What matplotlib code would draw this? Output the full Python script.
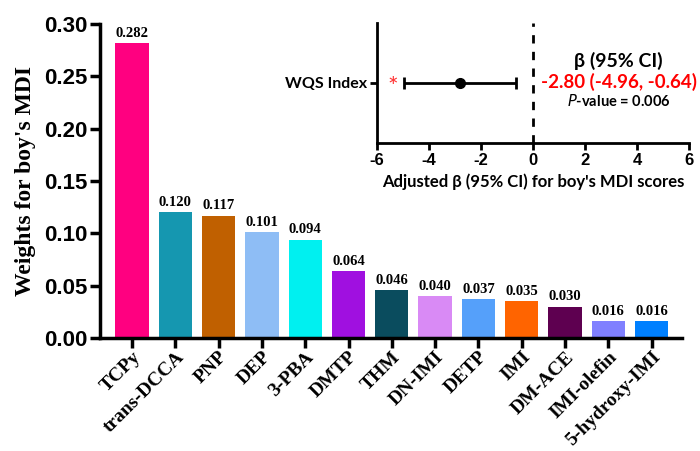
import numpy as np
from matplotlib import pyplot as plt

# WQS weights for each exposure
names = ['TCPy', 'trans-DCCA', 'PNP', 'DEP', '3-PBA', 'DMTP', 'THM', 'DN-IMI',
         'DETP', 'IMI', 'DM-ACE', 'IMI-olefin', '5-hydroxy-IMI']
weights = [0.282, 0.120, 0.117, 0.101, 0.094, 0.064, 0.046, 0.040,
           0.037, 0.035, 0.030, 0.016, 0.016]
colors = ['#FF0080', '#1597B0', '#C06000', '#8EBDF5', '#00F0F0', '#A010E0', '#0A4C5E',
          '#D98AF5', '#55A0FA', '#FF6400', '#5E0050', '#8080FF', '#0080FF']

# WQS index estimate
beta = -2.80
ci_low, ci_high = -4.96, -0.64
p_value = 0.006

serif = 'Liberation Serif'
arial = 'Liberation Sans'
calib = 'Lato'

fig = plt.figure(figsize=(7, 4.51), dpi=100)
ax = fig.add_axes([0.143, 0.2506, 0.831, 0.6962])

x = np.arange(len(names))
ax.bar(x, weights, width=0.77, color=colors)
for xi, w in zip(x, weights):
    ax.text(xi, w + 0.003, '%.3f' % w, ha='center', va='bottom',
            fontsize=10.5, fontweight='bold', family=serif)

ax.set_xlim(-0.74, 12.7)
ax.set_ylim(0, 0.30)
ax.set_yticks([0, 0.05, 0.10, 0.15, 0.20, 0.25, 0.30])
ax.set_yticklabels(['%.2f' % v for v in ax.get_yticks()],
                   fontsize=16, fontweight='bold', family=arial)
ax.set_xticks(x)
ax.set_xticklabels(names, rotation=45, ha='right', rotation_mode='anchor',
                   fontsize=14, fontweight='bold', family=serif)
ax.set_ylabel("Weights for boy's MDI", fontsize=17, fontweight='bold',
              family=serif, labelpad=6)
for s in ['top', 'right']:
    ax.spines[s].set_visible(False)
for s in ['left', 'bottom']:
    ax.spines[s].set_linewidth(2.5)
ax.tick_params(width=2.5, length=7, direction='out', pad=2)
ax.tick_params(axis='x', pad=0.5)

# forest plot inset
ins = fig.add_axes([0.5386, 0.683, 0.4457, 0.266])
ins.set_xlim(-6, 6)
ins.set_ylim(-1, 1)
ins.axvline(0, color='black', linestyle=(0, (3, 3)), linewidth=2)
ins.errorbar([beta], [0], xerr=[[beta - ci_low], [ci_high - beta]], fmt='o',
             color='black', markersize=7, linewidth=2, capsize=4, capthick=2)
ins.text(-5.38, -0.08, '*', color='#FF3030', fontsize=18, ha='center', va='center',
         family=calib)
ins.text(3.3, 0.36, u'\u03b2 (95% CI)', fontsize=14, fontweight='bold',
         ha='center', va='center', family=calib)
ins.text(3.3, 0.02, '%.2f (%.2f, %.2f)' % (beta, ci_low, ci_high), color='red',
         fontsize=13.5, fontweight='bold', ha='center', va='center', family=calib)
ins.text(3.3, -0.3, r'$\bf{\it{P}}$' + '-value = %.3f' % p_value, fontsize=10.5,
         fontweight='bold', ha='center', va='center', family=calib)
ins.set_xticks([-6, -4, -2, 0, 2, 4, 6])
ins.set_xticklabels(['-6', '-4', '-2', '0', '2', '4', '6'], fontsize=12,
                    fontweight='bold', family=arial)
ins.set_yticks([0])
ins.set_yticklabels(['WQS Index'], fontsize=11.5, fontweight='bold', family=calib)
ins.set_xlabel(u"Adjusted \u03b2 (95% CI) for boy's MDI scores", fontsize=12,
               fontweight='bold', family=calib, labelpad=4)
for s in ['top', 'right']:
    ins.spines[s].set_visible(False)
for s in ['left', 'bottom']:
    ins.spines[s].set_linewidth(2)
ins.tick_params(width=2, length=5, pad=2)

fig.savefig('out.png', dpi=100)
